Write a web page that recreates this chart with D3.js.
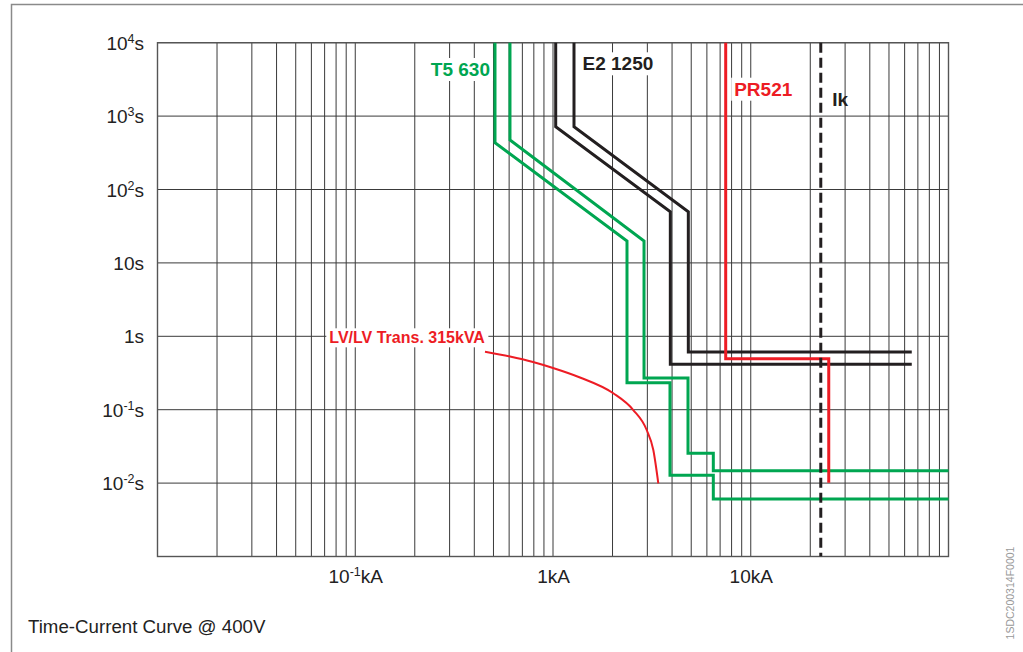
<!DOCTYPE html>
<html>
<head>
<meta charset="utf-8">
<script src="https://cdn.jsdelivr.net/npm/d3@7"></script>
<style>
  html, body { margin: 0; padding: 0; background: #fff; }
  svg { display: block; font-family: "Liberation Sans", Arial, Helvetica, sans-serif; }
</style>
</head>
<body>
<svg id="chart" width="1023" height="652"></svg>
<script>
// ---- Data (current in kA, time in s) ----
const xTickValues = [0.1, 1, 10];
const xTickBase = ["10", "1", "10"];
const xTickSup = ["-1", "", ""];
const yTickValues = [1e4, 1e3, 1e2, 10, 1, 0.1, 0.01];
const yTickBase = ["10", "10", "10", "10", "1", "10", "10"];
const yTickSup = ["4", "3", "2", "", "", "-1", "-2"];

// T5 630 (green) lower and upper band
const t5LowI = [0.509, 0.509, 2.367, 2.367, 3.905, 3.905, 6.467, 6.467, 100];
const t5LowT = [10000, 434, 19.9, 0.233, 0.233, 0.01277, 0.01277, 0.00607, 0.00607];
const t5HighI = [0.606, 0.606, 2.886, 2.886, 4.816, 4.816, 6.467, 6.467, 100];
const t5HighT = [10000, 472, 19.9, 0.270, 0.270, 0.0255, 0.0255, 0.01476, 0.01476];

// E2 1250 (black) lower and upper band
const e2LowI = [1.032, 1.032, 3.92, 3.92, 65.2];
const e2LowT = [10000, 717, 49.8, 0.4155, 0.4155];
const e2HighI = [1.277, 1.277, 4.834, 4.834, 65.2];
const e2HighT = [10000, 717, 49.8, 0.611, 0.611];

// PR521 (red)
const prI = [7.47, 7.47, 24.8, 24.8];
const prT = [10000, 0.495, 0.495, 0.0101];

// LV/LV transformer 315kVA inrush curve (thin red)
const trI = [0.453, 0.606, 0.7925, 1.0, 1.369, 2.018, 2.547, 2.977, 3.216, 3.408];
const trT = [0.617, 0.531, 0.4467, 0.3699, 0.2747, 0.1673, 0.0990, 0.0529, 0.0282, 0.00994];

// Short-circuit current Ik
const ikValue = 22.6;

// ---- Layout ----
const svg = d3.select("#chart");
const L = 157.5, R = 948.5, T = 42.7, B = 556.5;
const x = d3.scaleLog().domain([0.01, 100]).range([L, R]);
const y = d3.scaleLog().domain([1e-3, 1e4]).range([B, T]);

const GREEN = "#00a651", RED = "#ed1c24", BLACK = "#231f20", GRID = "#3a3a3a";

// outer frame
svg.append("path").attr("d", "M11.5,652 L11.5,4.5 L1023,4.5")
  .attr("fill", "none").attr("stroke", "#8a8a8a").attr("stroke-width", 1.5);

// grid
const g = svg.append("g");
g.selectAll("line.v").data(x.ticks()).join("line")
  .attr("x1", d => x(d)).attr("x2", d => x(d)).attr("y1", T).attr("y2", B)
  .attr("stroke", GRID).attr("stroke-width", 1);
g.selectAll("line.h").data(d3.range(-3, 5).map(e => Math.pow(10, e))).join("line")
  .attr("x1", L).attr("x2", R).attr("y1", d => y(d)).attr("y2", d => y(d))
  .attr("stroke", GRID).attr("stroke-width", 1);
g.append("rect").attr("x", L).attr("y", T).attr("width", R - L).attr("height", B - T)
  .attr("fill", "none").attr("stroke", "#555").attr("stroke-width", 1.4);

// axes
const xAxis = svg.append("g").attr("transform", `translate(0,${B})`)
  .call(d3.axisBottom(x).tickValues(xTickValues).tickSize(0).tickPadding(13.5));
xAxis.select(".domain").remove();
xAxis.selectAll("text").each(function(d, i) {
  const t = d3.select(this).text(null)
    .attr("font-size", 19).attr("fill", "#222").attr("font-family", null);
  t.append("tspan").text(xTickBase[i]);
  if (xTickSup[i]) t.append("tspan").attr("font-size", 12.5).attr("dy", -7).text(xTickSup[i]);
  t.append("tspan").attr("dy", xTickSup[i] ? 7 : 0).text("kA");
});

const yAxis = svg.append("g").attr("transform", `translate(${L},0)`)
  .call(d3.axisLeft(y).tickValues(yTickValues).tickSize(0).tickPadding(13.5));
yAxis.select(".domain").remove();
yAxis.selectAll("text").each(function(d, i) {
  const t = d3.select(this).text(null)
    .attr("font-size", 19).attr("fill", "#222").attr("font-family", null).attr("dy", "0.35em");
  t.append("tspan").text(yTickBase[i]);
  if (yTickSup[i]) t.append("tspan").attr("font-size", 12.5).attr("dy", -7).text(yTickSup[i]);
  t.append("tspan").attr("dy", yTickSup[i] ? 7 : 0).text("s");
});

// clip
svg.append("clipPath").attr("id", "clip").append("rect")
  .attr("x", L).attr("y", T - 1).attr("width", R - L + 1).attr("height", B - T + 1);
const plot = svg.append("g").attr("clip-path", "url(#clip)");

const lineLin = d3.line().x(d => x(d[0])).y(d => y(d[1]));
const lineCurve = d3.line().x(d => x(d[0])).y(d => y(d[1])).curve(d3.curveMonotoneX);
const zip = (a, b) => a.map((v, i) => [v, b[i]]);

// label helper with white background
function label(txt, px, py, color, size, bg, anchor) {
  const grp = svg.append("g");
  const t = grp.append("text").attr("x", px).attr("y", py)
    .attr("text-anchor", anchor || "start")
    .attr("font-size", size).attr("font-weight", "bold").attr("fill", color).text(txt);
  if (bg) {
    const bb = t.node().getBBox();
    grp.insert("rect", "text").attr("x", bb.x - 3).attr("y", bb.y - 1)
      .attr("width", bb.width + 6).attr("height", bb.height + 2).attr("fill", "#fff");
  }
  return grp;
}

// label backgrounds (drawn before curves so curves stay on top)
label("T5 630", x(0.509) - 5, 76, GREEN, 19, true, "end");
label("E2 1250", x(1.277) + 8.5, 70.3, BLACK, 19, true);
label("PR521", x(7.47) + 8.5, 95.7, RED, 19, true);
label("LV/LV Trans. 315kVA", 329.3, 343.3, RED, 16, true);

// curves
[[t5LowI, t5LowT], [t5HighI, t5HighT]].forEach(([a, b]) =>
  plot.append("path").attr("d", lineLin(zip(a, b))).attr("fill", "none")
    .attr("stroke", GREEN).attr("stroke-width", 3));
[[e2LowI, e2LowT], [e2HighI, e2HighT]].forEach(([a, b]) =>
  plot.append("path").attr("d", lineLin(zip(a, b))).attr("fill", "none")
    .attr("stroke", BLACK).attr("stroke-width", 3));
plot.append("path").attr("d", lineLin(zip(prI, prT))).attr("fill", "none")
  .attr("stroke", RED).attr("stroke-width", 3);
plot.append("path").attr("d", lineCurve(zip(trI, trT))).attr("fill", "none")
  .attr("stroke", RED).attr("stroke-width", 2);
plot.append("line").attr("x1", x(ikValue)).attr("x2", x(ikValue)).attr("y1", T).attr("y2", B)
  .attr("stroke", BLACK).attr("stroke-width", 3).attr("stroke-dasharray", "10,5");

label("Ik", x(ikValue) + 11.5, 106, BLACK, 19, false);

// caption
svg.append("text").attr("x", 28).attr("y", 633.3).attr("font-size", 18.7).attr("fill", "#222")
  .text("Time-Current Curve @ 400V");
svg.append("text").attr("transform", "translate(1014,593) rotate(-90)")
  .attr("text-anchor", "middle").attr("font-size", 10.5).attr("fill", "#999")
  .text("1SDC200314F0001");
</script>
</body>
</html>
